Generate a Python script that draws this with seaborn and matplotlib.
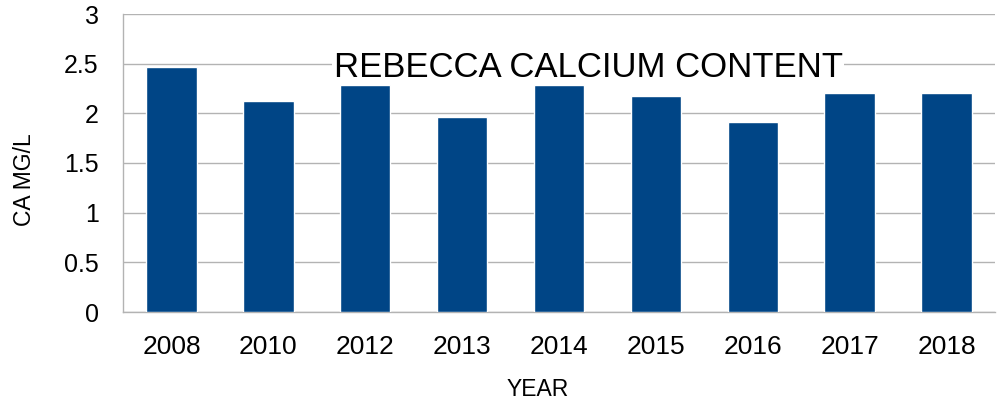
import matplotlib
matplotlib.use('Agg')
import matplotlib.pyplot as plt
import seaborn as sns
import pandas as pd

years = ['2008', '2010', '2012', '2013', '2014', '2015', '2016', '2017', '2018']
calcium = [2.47, 2.12, 2.29, 1.96, 2.29, 2.17, 1.91, 2.2, 2.2]

df = pd.DataFrame({'YEAR': years, 'CA MG/L': calcium})

sns.set_style('white')
plt.rcParams['font.family'] = ['Liberation Sans', 'DejaVu Sans']
plt.rcParams['text.color'] = 'black'
plt.rcParams['axes.labelcolor'] = 'black'
plt.rcParams['xtick.color'] = 'black'
plt.rcParams['ytick.color'] = 'black'

fig = plt.figure(figsize=(10, 4), dpi=100)
ax = fig.add_axes([0.123, 0.22, 0.872, 0.745])

sns.barplot(data=df, x='YEAR', y='CA MG/L', color='#004586', width=0.52,
            saturation=1, ax=ax, zorder=3)

grid_c = '#b3b3b3'
ax.set_ylim(0, 3)
ax.set_xlim(-0.5, len(years) - 0.5)
ax.set_yticks([0, 0.5, 1, 1.5, 2, 2.5, 3])
ax.set_yticklabels(['0', '0.5', '1', '1.5', '2', '2.5', '3'])
ax.yaxis.grid(True, color=grid_c, linewidth=1, zorder=0)
ax.set_axisbelow(True)

# tick marks sit between the bars, labels under the bars
ax.set_xticks([i - 0.5 for i in range(len(years) + 1)], minor=True)
ax.tick_params(axis='x', which='major', length=0, labelsize=19, pad=16.5)
ax.tick_params(axis='x', which='minor', length=10, color=grid_c, width=1)
ax.tick_params(axis='y', length=10, color=grid_c, width=1, labelsize=18, pad=7.5)

for s in ['top', 'right']:
    ax.spines[s].set_visible(False)
for s in ['left', 'bottom']:
    ax.spines[s].set_color(grid_c)
    ax.spines[s].set_linewidth(1)

ax.set_xlabel('YEAR', fontsize=16.5)
ax.set_ylabel('CA MG/L', fontsize=16.5)
ax.xaxis.set_label_coords(0.475, -0.222)
ax.yaxis.set_label_coords(-0.10, 0.443)

fig.text(0.588, 0.8075, 'REBECCA CALCIUM CONTENT', fontsize=25,
         ha='center', va='baseline', zorder=5,
         bbox=dict(facecolor='white', edgecolor='none', pad=1))

fig.savefig('out.png', dpi=100)
